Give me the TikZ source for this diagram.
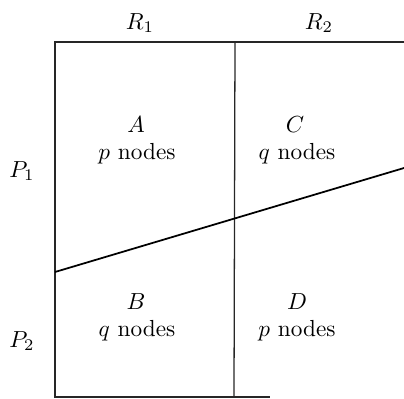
\documentclass[tikz,border=0pt]{standalone}
\begin{document}
\begin{tikzpicture}[x=0.43pt,y=-0.43pt,
  frame/.style={line width=0.55pt,draw=black!85},
  cut/.style={line width=0.75pt,draw=black},
  lab/.style={anchor=base,inner sep=0pt,outer sep=0pt}]
\useasboundingbox (0,0) rectangle (404,398);
% frame corners
\coordinate (tl) at (55,42);
\coordinate (tr) at (404,42);
\coordinate (bl) at (55,397);
\coordinate (br) at (270,397);
\coordinate (mt) at (235,42);
\coordinate (mb) at (234,397);
\coordinate (sl) at (55,272);
\coordinate (sr) at (404,168);
\draw[frame] (tr) -- (tl) -- (bl) -- (br);
\draw[frame] (mt) -- (mb);
\draw[cut] (sl) -- (sr);
% labels
\node[lab] (r1) at (140,29) {$R_1$};
\node[lab] (r2) at (319,29) {$R_2$};
\node[lab] (p1) at (22,177) {$P_1$};
\node[lab] (p2) at (22,347) {$P_2$};
\node[lab] (a) at (136,132) {$A$};
\node[lab] (an) at (137,159) {$p$ nodes};
\node[lab] (c) at (295,132) {$C$};
\node[lab] (cn) at (297,159) {$q$ nodes};
\node[lab] (b) at (136,309) {$B$};
\node[lab] (bn) at (137,336) {$q$ nodes};
\node[lab] (d) at (297,309) {$D$};
\node[lab] (dn) at (297,336) {$p$ nodes};
\end{tikzpicture}
\end{document}
